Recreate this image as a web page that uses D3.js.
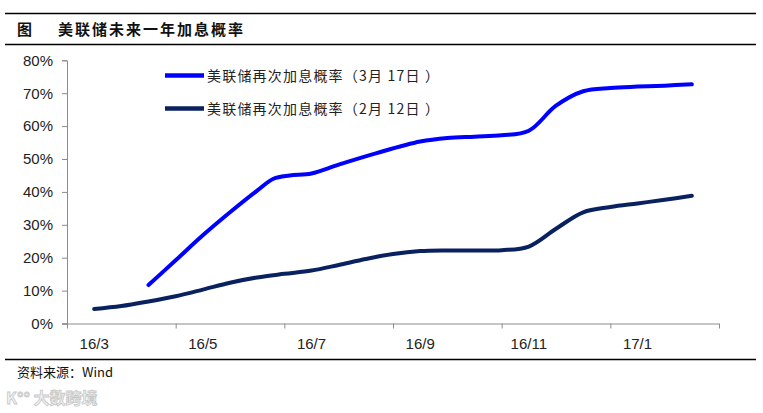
<!DOCTYPE html>
<html>
<head>
<meta charset="utf-8">
<script src="https://cdn.jsdelivr.net/npm/d3@7"></script>
<style>
  html, body { margin: 0; padding: 0; background: #fff; }
  svg { display: block; }
</style>
</head>
<body>
<svg id="chart" width="763" height="413"></svg>
<script>
// ---- Data ----
// Month categories on the axis (monthly, Mar 2016 – Feb 2017)
const categories = ["16/3","16/4","16/5","16/6","16/7","16/8","16/9","16/10","16/11","16/12","17/1","17/2"];
const tickLabels = ["16/3","16/5","16/7","16/9","16/11","17/1"];
const yTicks = [0, 10, 20, 30, 40, 50, 60, 70, 80];

// Position in months from start of 16/3 (category i centre = i + 0.5), values in %
const posMar17 = [1.5, 2.0, 2.5, 3.0, 3.5, 3.8, 4.1, 4.5, 5.0, 5.7, 6.5, 7.0, 7.5, 8.0, 8.5, 9.0, 9.5, 10.0, 10.5, 11.0, 11.5];
const valMar17 = [11.7, 19.2, 26.8, 33.8, 40.4, 44.0, 45.0, 45.6, 48.3, 51.8, 55.3, 56.4, 56.8, 57.2, 58.6, 66.2, 70.6, 71.6, 72.0, 72.3, 72.7];

const posFeb12 = [0.5, 1.0, 1.5, 2.0, 2.5, 3.0, 3.5, 4.0, 4.5, 5.0, 5.5, 6.0, 6.5, 7.0, 7.5, 8.0, 8.5, 9.0, 9.5, 10.0, 10.5, 11.0, 11.5];
const valFeb12 = [4.4, 5.3, 6.7, 8.3, 10.3, 12.4, 14.0, 15.1, 16.1, 17.8, 19.6, 21.1, 22.0, 22.2, 22.2, 22.3, 23.4, 28.8, 33.8, 35.4, 36.5, 37.6, 38.8];

const seriesNames = ["美联储再次加息概率（3月 17日 ）", "美联储再次加息概率（2月 12日 ）"];
const seriesColors = ["#0000ff", "#0a2160"];

const title = "美联储未来一年加息概率";
const source = "资料来源：Wind";

// ---- Drawing ----
const svg = d3.select("#chart");
const plotL = 67, plotR = 719, plotT = 60.3, plotB = 323.5;

const x = d3.scaleLinear().domain([0, categories.length]).range([plotL, plotR]);
const y = d3.scaleLinear().domain([0, 80]).range([plotB, plotT]);

const cjk = "'Noto Sans CJK SC', 'Noto Sans', sans-serif";
const latin = "'Liberation Sans', Arial, sans-serif";

// Header rules and title
svg.append("line").attr("x1", 5).attr("x2", 756).attr("y1", 13.5).attr("y2", 13.5)
  .attr("stroke", "#000").attr("stroke-width", 1.3);
svg.append("line").attr("x1", 5).attr("x2", 756).attr("y1", 44.5).attr("y2", 44.5)
  .attr("stroke", "#000").attr("stroke-width", 1.3);
svg.append("text").attr("x", 17).attr("y", 35).text("图")
  .attr("font-family", cjk).attr("font-size", 15).attr("font-weight", 700).attr("fill", "#111");
svg.append("text").attr("x", 58).attr("y", 35).text(title)
  .attr("font-family", cjk).attr("font-size", 15).attr("font-weight", 700)
  .attr("letter-spacing", 2).attr("fill", "#111");

// Y axis
const yAxis = d3.axisLeft(y).tickValues(yTicks).tickFormat(d => d + "%").tickSize(5).tickPadding(9);
const gy = svg.append("g").attr("transform", `translate(${plotL},0)`).call(yAxis);
gy.select(".domain").attr("stroke", "#8c8c8c");
gy.selectAll(".tick line").attr("stroke", "#8c8c8c");
gy.selectAll(".tick text").attr("font-family", latin).attr("font-size", 15).attr("fill", "#222");

// X axis: ticks every 2 months, labels at centre of first month in each pair
const xTickPos = d3.range(0, categories.length + 1, 2);
const xAxis = d3.axisBottom(x).tickValues(xTickPos).tickFormat("").tickSize(5).tickSizeOuter(0);
const gx = svg.append("g").attr("transform", `translate(0,${plotB})`).call(xAxis);
gx.select(".domain").attr("stroke", "#8c8c8c").attr("d", `M${plotL - 5},0.5H${plotR}`);
gx.selectAll(".tick line").attr("stroke", "#8c8c8c");
svg.append("g").selectAll("text").data(tickLabels).join("text")
  .attr("x", d => x(categories.indexOf(d) + 0.5))
  .attr("y", plotB + 25)
  .attr("text-anchor", "middle")
  .attr("font-family", latin).attr("font-size", 15).attr("fill", "#222")
  .text(d => d);

// Lines
const line = d3.line().x(d => x(d[0])).y(d => y(d[1])).curve(d3.curveCatmullRom.alpha(0.5));
const s1 = posMar17.map((p, i) => [p, valMar17[i]]);
const s2 = posFeb12.map((p, i) => [p, valFeb12[i]]);
[s1, s2].forEach((s, i) => {
  svg.append("path").datum(s).attr("d", line)
    .attr("fill", "none").attr("stroke", seriesColors[i]).attr("stroke-width", 4)
    .attr("stroke-linecap", "round").attr("stroke-linejoin", "round");
});

// Legend
seriesNames.forEach((n, i) => {
  const ly = 75.5 + i * 33;
  svg.append("line").attr("x1", 165).attr("x2", 204).attr("y1", ly).attr("y2", ly)
    .attr("stroke", seriesColors[i]).attr("stroke-width", 4.5);
  svg.append("text").attr("x", 207).attr("y", ly + 5.5).text(n)
    .attr("font-family", cjk).attr("font-size", 14).attr("letter-spacing", 1.2).attr("fill", "#222");
});

// Footer
svg.append("line").attr("x1", 5).attr("x2", 756).attr("y1", 359.5).attr("y2", 359.5)
  .attr("stroke", "#000").attr("stroke-width", 1.3);
svg.append("text").attr("x", 17).attr("y", 377).text(source)
  .attr("font-family", cjk).attr("font-size", 13).attr("fill", "#111");

// Watermark
svg.append("text").attr("x", 6).attr("y", 404).text("K°° 大数跨境")
  .attr("font-family", cjk).attr("font-size", 16).attr("font-weight", 700)
  .attr("fill", "#f2f2f2").attr("stroke", "#c8c8c8").attr("stroke-width", 0.8);
</script>
</body>
</html>
